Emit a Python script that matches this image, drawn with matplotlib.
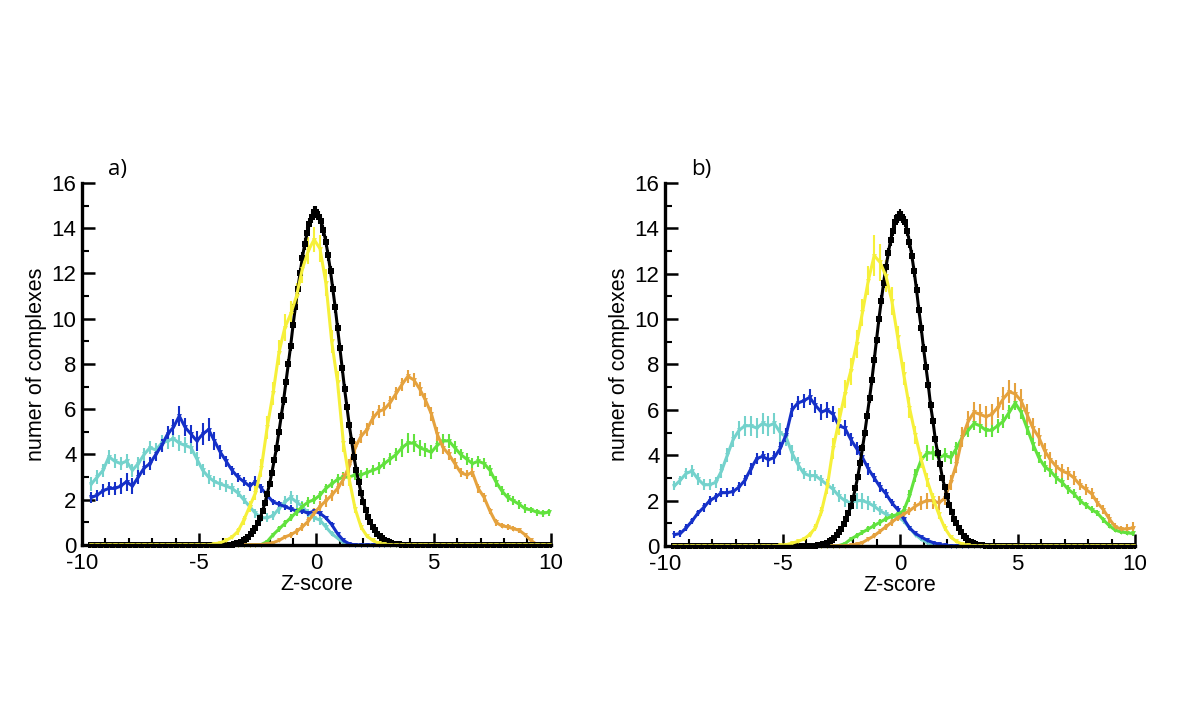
import numpy as np
import matplotlib
matplotlib.use("Agg")
import matplotlib.pyplot as plt

plt.rcParams['font.family'] = ['Liberation Sans', 'DejaVu Sans']
plt.rcParams['axes.unicode_minus'] = False

# common z-score grid for the coloured series (step 0.25)
X0, STEP, NPTS = -9.6, 0.25, 79
X = np.round(X0 + STEP * np.arange(NPTS), 3)

# black series is sampled finer (step 0.1) in its core
black_x0, black_step = -3.5, 0.1

colors = {'blue': '#1530c8', 'cyan': '#74d2cc', 'yellow': '#f6f03a',
          'orange': '#e5a23e', 'green': '#62e23e', 'black': 'black'}

# ---------------- panel a ----------------
a_blue_x0 = -9.6
a_blue = [2.1, 2.2, 2.4, 2.5, 2.5, 2.6, 2.8, 2.6, 3.0, 3.4, 3.6, 4.0, 4.4, 4.9, 5.2, 5.7, 5.2, 4.9, 4.6, 4.9,
          5.1, 4.6, 4.1, 3.7, 3.3, 3.0, 2.8, 2.6, 2.8, 2.5, 2.2, 1.9, 1.8, 1.7, 1.6, 1.5, 1.5, 1.4, 1.5, 1.4,
          1.2, 0.9, 0.5, 0.2, 0.05]
a_blue_err = [0.25, 0.25, 0.3, 0.3, 0.3, 0.35, 0.4, 0.35, 0.3, 0.3, 0.3, 0.3, 0.3, 0.35, 0.35, 0.45, 0.4, 0.4, 0.45, 0.5,
              0.5, 0.4, 0.3, 0.25, 0.2, 0.2, 0.2, 0.2, 0.25, 0.2, 0.2, 0.15, 0.15, 0.15, 0.15, 0.15, 0.15, 0.12, 0.12, 0.12,
              0.1, 0.1, 0.08, 0.05, 0.03]

a_cyan_x0 = -9.6
a_cyan = [2.7, 3.0, 3.3, 3.9, 3.7, 3.6, 3.7, 3.3, 3.6, 4.0, 4.3, 4.2, 4.5, 4.6, 4.7, 4.5, 4.4, 4.3, 3.8, 3.3,
          3.0, 2.8, 2.7, 2.6, 2.5, 2.3, 2.0, 1.7, 1.4, 1.2, 1.2, 1.3, 1.6, 1.9, 2.1, 1.9, 1.7, 1.4, 1.2, 1.1,
          0.8, 0.5, 0.3, 0.1, 0.02]
a_cyan_err = [0.3, 0.3, 0.3, 0.3, 0.3, 0.3, 0.3, 0.3, 0.3, 0.3, 0.3, 0.3, 0.35, 0.35, 0.35, 0.35, 0.35, 0.3, 0.3, 0.3,
              0.3, 0.25, 0.25, 0.25, 0.25, 0.2, 0.2, 0.2, 0.2, 0.2, 0.2, 0.2, 0.25, 0.25, 0.3, 0.3, 0.25, 0.2, 0.2, 0.2,
              0.15, 0.12, 0.1, 0.05, 0.02]

a_yellow_x0 = -4.35
a_yellow = [0.05, 0.1, 0.2, 0.35, 0.6, 1.1, 1.7, 2.3, 3.4, 5.2, 6.7, 8.5, 9.6, 10.2, 11.0, 12.2, 13.0, 13.5, 13.1, 11.6,
            9.0, 7.2, 4.5, 2.9, 1.6, 0.8, 0.4, 0.2, 0.08, 0.03]
a_yellow_err = [0.03, 0.05, 0.08, 0.1, 0.15, 0.2, 0.25, 0.3, 0.4, 0.5, 0.5, 0.55, 0.6, 0.6, 0.6, 0.6, 0.6, 0.55, 0.6, 0.6,
                0.5, 0.5, 0.4, 0.3, 0.2, 0.15, 0.1, 0.06, 0.04, 0.02]

a_orange_x0 = -2.35
a_orange = [0.02, 0.05, 0.1, 0.2, 0.35, 0.45, 0.6, 0.8, 1.05, 1.4, 1.7, 1.95, 2.2, 2.5, 2.9, 3.5, 4.3, 4.8, 5.1, 5.6,
            5.9, 6.0, 6.3, 6.7, 7.1, 7.45, 7.3, 6.9, 6.4, 5.8, 4.9, 4.3, 4.0, 3.6, 3.2, 3.1, 3.2, 2.5, 2.1, 1.5,
            1.0, 0.85, 0.8, 0.72, 0.65, 0.45, 0.2, 0.02]
a_orange_err = [0.02, 0.04, 0.06, 0.08, 0.1, 0.12, 0.15, 0.18, 0.2, 0.22, 0.25, 0.25, 0.25, 0.25, 0.28, 0.3, 0.3, 0.3, 0.3, 0.3,
                0.3, 0.3, 0.3, 0.3, 0.3, 0.3, 0.3, 0.3, 0.3, 0.3, 0.3, 0.3, 0.25, 0.25, 0.2, 0.2, 0.2, 0.2, 0.2, 0.15,
                0.15, 0.12, 0.12, 0.12, 0.12, 0.1, 0.06, 0.02]

a_green_x0 = -2.35
a_green = [0.02, 0.15, 0.45, 0.7, 0.95, 1.2, 1.45, 1.7, 1.9, 2.0, 2.2, 2.5, 2.7, 2.9, 3.0, 3.0, 3.1, 3.1, 3.2, 3.3,
           3.4, 3.6, 3.8, 4.0, 4.3, 4.5, 4.5, 4.3, 4.2, 4.1, 4.4, 4.6, 4.6, 4.3, 4.0, 3.8, 3.6, 3.7, 3.6, 3.3,
           2.8, 2.4, 2.1, 1.95, 1.8, 1.6, 1.55, 1.45, 1.4, 1.45]
a_green_err = [0.02, 0.08, 0.1, 0.12, 0.15, 0.15, 0.18, 0.2, 0.2, 0.2, 0.2, 0.2, 0.2, 0.22, 0.22, 0.22, 0.22, 0.22, 0.22, 0.22,
               0.25, 0.25, 0.25, 0.3, 0.4, 0.45, 0.4, 0.35, 0.3, 0.3, 0.3, 0.3, 0.3, 0.3, 0.25, 0.25, 0.25, 0.25, 0.25, 0.25,
               0.25, 0.2, 0.2, 0.2, 0.2, 0.2, 0.15, 0.15, 0.15, 0.15]

a_black = [0.05, 0.07, 0.1, 0.14, 0.2, 0.27, 0.36, 0.47, 0.6, 0.76, 0.95, 1.2, 1.5, 1.85, 2.25, 2.7, 3.2, 3.75, 4.3, 5.0,
           5.7, 6.4, 7.2, 8.0, 8.8, 9.7, 10.5, 11.3, 12.0, 12.7, 13.3, 13.8, 14.2, 14.5, 14.7, 14.7, 14.5, 14.3, 13.9, 13.4,
           12.8, 12.1, 11.3, 10.5, 9.6, 8.7, 7.8, 6.9, 6.1, 5.3, 4.6, 3.9, 3.3, 2.8, 2.3, 1.9, 1.55, 1.25, 1.0, 0.8,
           0.64, 0.5, 0.39, 0.3, 0.23, 0.17, 0.12, 0.09, 0.06, 0.04, 0.03]

# ---------------- panel b ----------------
b_blue_x0 = -9.6
b_blue = [0.5, 0.55, 0.8, 1.1, 1.45, 1.7, 2.0, 2.15, 2.35, 2.35, 2.4, 2.6, 2.9, 3.4, 3.85, 3.95, 3.8, 3.9, 4.3, 4.9,
          6.0, 6.3, 6.4, 6.55, 6.2, 5.9, 6.0, 5.8, 5.3, 5.2, 4.7, 4.3, 3.9, 3.4, 3.0, 2.6, 2.3, 1.9, 1.6, 1.2,
          0.8, 0.55, 0.4, 0.25, 0.15, 0.08, 0.03]
b_blue_err = [0.15, 0.15, 0.15, 0.15, 0.15, 0.2, 0.2, 0.2, 0.2, 0.2, 0.2, 0.2, 0.25, 0.25, 0.25, 0.25, 0.3, 0.3, 0.3, 0.3,
              0.3, 0.3, 0.3, 0.35, 0.35, 0.35, 0.35, 0.35, 0.35, 0.35, 0.3, 0.3, 0.25, 0.25, 0.2, 0.2, 0.2, 0.15, 0.15, 0.12,
              0.1, 0.08, 0.06, 0.05, 0.04, 0.03, 0.02]

b_cyan_x0 = -9.6
b_cyan = [2.65, 2.9, 3.2, 3.3, 2.95, 2.7, 2.7, 2.8, 3.3, 4.0, 4.7, 5.1, 5.3, 5.3, 5.2, 5.4, 5.3, 5.4, 5.0, 4.8,
          4.1, 3.6, 3.2, 3.1, 3.1, 2.9, 2.7, 2.5, 2.2, 2.0, 1.9, 2.0, 2.0, 1.9, 1.75, 1.55, 1.4, 1.3, 1.3, 1.1,
          0.8, 0.5, 0.3, 0.15, 0.07, 0.03]
b_cyan_err = [0.2, 0.2, 0.25, 0.25, 0.25, 0.25, 0.25, 0.25, 0.3, 0.3, 0.35, 0.4, 0.45, 0.45, 0.45, 0.45, 0.45, 0.45, 0.4, 0.4,
              0.35, 0.3, 0.25, 0.25, 0.25, 0.25, 0.25, 0.25, 0.25, 0.3, 0.3, 0.35, 0.35, 0.3, 0.25, 0.2, 0.2, 0.15, 0.15, 0.12,
              0.1, 0.08, 0.06, 0.04, 0.03, 0.02]

b_yellow_x0 = -5.1
b_yellow = [0.03, 0.06, 0.12, 0.2, 0.3, 0.5, 0.8, 1.5, 2.6, 4.3, 5.5, 6.7, 7.7, 8.9, 10.3, 11.7, 12.8, 12.5, 11.9, 10.8,
            9.2, 7.6, 6.1, 4.9, 3.8, 2.9, 2.1, 1.4, 0.8, 0.4, 0.2, 0.08, 0.03]
b_yellow_err = [0.02, 0.03, 0.05, 0.08, 0.1, 0.12, 0.15, 0.2, 0.3, 0.45, 0.6, 0.6, 0.6, 0.6, 0.6, 0.65, 0.9, 0.8, 0.7, 0.6,
                0.5, 0.5, 0.45, 0.4, 0.35, 0.3, 0.25, 0.2, 0.15, 0.1, 0.06, 0.04, 0.02]

b_green_x0 = -2.6
b_green = [0.02, 0.1, 0.3, 0.45, 0.6, 0.75, 0.9, 1.05, 1.2, 1.3, 1.4, 1.55, 2.2, 3.1, 3.8, 4.1, 4.1, 3.9, 4.0, 3.9,
           4.3, 4.8, 5.1, 5.4, 5.3, 5.1, 5.1, 5.3, 5.5, 5.9, 6.3, 5.9, 5.2, 4.5, 3.9, 3.5, 3.3, 3.0, 2.8, 2.5,
           2.3, 2.0, 1.8, 1.6, 1.45, 1.15, 0.9, 0.7, 0.62, 0.58, 0.55]
b_green_err = [0.02, 0.05, 0.1, 0.12, 0.12, 0.12, 0.15, 0.15, 0.15, 0.15, 0.15, 0.2, 0.25, 0.3, 0.35, 0.35, 0.3, 0.3, 0.3, 0.3,
               0.3, 0.3, 0.3, 0.3, 0.3, 0.3, 0.3, 0.3, 0.3, 0.3, 0.3, 0.3, 0.3, 0.3, 0.25, 0.25, 0.25, 0.25, 0.2, 0.2,
               0.2, 0.2, 0.15, 0.15, 0.15, 0.12, 0.12, 0.1, 0.1, 0.1, 0.1]

b_orange_x0 = -2.1
b_orange = [0.03, 0.08, 0.15, 0.3, 0.45, 0.65, 0.85, 1.05, 1.25, 1.4, 1.55, 1.75, 1.9, 2.0, 2.0, 1.9, 2.1, 2.8, 3.6, 4.8,
            5.5, 5.9, 5.8, 5.7, 5.8, 6.1, 6.5, 6.8, 6.7, 6.4, 5.8, 5.2, 4.8, 4.2, 3.8, 3.5, 3.3, 3.2, 3.0, 2.7,
            2.5, 2.3, 1.9, 1.6, 1.2, 0.85, 0.75, 0.75, 0.8]
b_orange_err = [0.02, 0.04, 0.06, 0.08, 0.1, 0.12, 0.14, 0.15, 0.15, 0.15, 0.18, 0.2, 0.3, 0.35, 0.35, 0.3, 0.3, 0.35, 0.4, 0.45,
                0.45, 0.45, 0.45, 0.45, 0.45, 0.45, 0.5, 0.5, 0.5, 0.5, 0.45, 0.45, 0.4, 0.35, 0.35, 0.3, 0.3, 0.3, 0.3, 0.25,
                0.25, 0.25, 0.2, 0.2, 0.2, 0.15, 0.15, 0.2, 0.25]

b_black = [0.03, 0.05, 0.07, 0.1, 0.14, 0.2, 0.27, 0.36, 0.47, 0.6, 0.75, 0.95, 1.2, 1.45, 1.75, 2.1, 2.55, 3.05, 3.65, 4.3,
           5.0, 5.75, 6.5, 7.3, 8.2, 9.1, 10.0, 10.8, 11.6, 12.3, 12.9, 13.5, 13.9, 14.3, 14.5, 14.6, 14.5, 14.3, 13.9, 13.4,
           12.8, 12.1, 11.3, 10.4, 9.6, 8.7, 7.9, 7.1, 6.2, 5.5, 4.7, 4.1, 3.6, 3.0, 2.6, 2.2, 1.8, 1.5, 1.2, 1.0,
           0.8, 0.6, 0.45, 0.33, 0.24, 0.18, 0.13, 0.09, 0.06, 0.04, 0.03]

black_err = [0.02, 0.02, 0.03, 0.03, 0.04, 0.05, 0.05, 0.06, 0.07, 0.08, 0.09, 0.1, 0.11, 0.12, 0.13, 0.14, 0.15, 0.16, 0.17, 0.18,
             0.19, 0.2, 0.2, 0.21, 0.22, 0.22, 0.23, 0.24, 0.24, 0.25, 0.25, 0.26, 0.26, 0.27, 0.27, 0.27, 0.27, 0.26, 0.26, 0.25,
             0.25, 0.24, 0.24, 0.23, 0.22, 0.22, 0.21, 0.2, 0.2, 0.19, 0.18, 0.17, 0.16, 0.15, 0.14, 0.13, 0.12, 0.11, 0.1, 0.09,
             0.08, 0.07, 0.06, 0.05, 0.05, 0.04, 0.03, 0.03, 0.02, 0.02, 0.02]


def on_grid(x0, vals, errs):
    # put a read-off stretch onto the full grid, zero elsewhere
    y = np.zeros(NPTS)
    e = np.zeros(NPTS)
    i0 = int(round((x0 - X0) / STEP))
    y[i0:i0 + len(vals)] = vals
    e[i0:i0 + len(errs)] = errs
    return X, y, e


def black_series(vals):
    core_x = np.round(black_x0 + black_step * np.arange(len(vals)), 3)
    left = X[X < core_x[0]]
    right = X[X > core_x[-1]]
    x = np.concatenate([left, core_x, right])
    y = np.concatenate([np.zeros(len(left)), vals, np.zeros(len(right))])
    e = np.concatenate([np.zeros(len(left)), black_err, np.zeros(len(right))])
    return x, y, e


def draw(ax, x, y, e, c, marker='v', ms=3.5):
    ax.errorbar(x, y, yerr=e, color=c, lw=2.2, elinewidth=1.5, capsize=3.5, capthick=1.5,
                marker=marker, ms=ms, mew=0, clip_on=False)


def style(ax, label):
    ax.set_xlim(-10, 10)
    ax.set_ylim(0, 16)
    for s in ['top', 'right']:
        ax.spines[s].set_visible(False)
    for s in ['left', 'bottom']:
        ax.spines[s].set_linewidth(2.4)
        ax.spines[s].set_zorder(10)
    ax.set_xticks([-10, -5, 0, 5, 10])
    ax.set_xticks(np.arange(-10, 11, 1), minor=True)
    ax.set_yticks(np.arange(0, 17, 2))
    ax.set_yticks(np.arange(1, 16, 2), minor=True)
    ax.tick_params(which='major', direction='in', length=9, width=1.8, labelsize=16)
    ax.tick_params(axis='x', which='major', pad=6)
    ax.tick_params(axis='y', which='major', pad=4)
    ax.tick_params(which='minor', direction='in', length=5, width=1.5)
    ax.set_xlabel('Z-score', fontsize=15.5, labelpad=0)
    ax.set_ylabel('numer of complexes', fontsize=15.5, labelpad=3)
    ax.text(0.055, 1.036, label, transform=ax.transAxes, fontsize=16,
            family=['Open Sans', 'DejaVu Sans'], ha='left', va='center')


fig = plt.figure(figsize=(12, 7.2), dpi=100)
ax_a = fig.add_axes([0.0683, 0.2431, 0.3908, 0.5028])
ax_b = fig.add_axes([0.5542, 0.2417, 0.3917, 0.5042])

panels = [
    (ax_a, 'a)', [(a_cyan_x0, a_cyan, a_cyan_err, 'cyan'), (a_blue_x0, a_blue, a_blue_err, 'blue'),
                  (a_green_x0, a_green, a_green_err, 'green'), (a_orange_x0, a_orange, a_orange_err, 'orange')],
     a_black, (a_yellow_x0, a_yellow, a_yellow_err)),
    (ax_b, 'b)', [(b_cyan_x0, b_cyan, b_cyan_err, 'cyan'), (b_blue_x0, b_blue, b_blue_err, 'blue'),
                  (b_green_x0, b_green, b_green_err, 'green'), (b_orange_x0, b_orange, b_orange_err, 'orange')],
     b_black, (b_yellow_x0, b_yellow, b_yellow_err)),
]

for ax, label, series, blk, yel in panels:
    for x0, vals, errs, name in series:
        draw(ax, *on_grid(x0, vals, errs), colors[name])
    draw(ax, *black_series(blk), colors['black'], marker='s', ms=4.5)
    draw(ax, *on_grid(*yel), colors['yellow'])
    style(ax, label)

fig.savefig('out.png', dpi=100)
